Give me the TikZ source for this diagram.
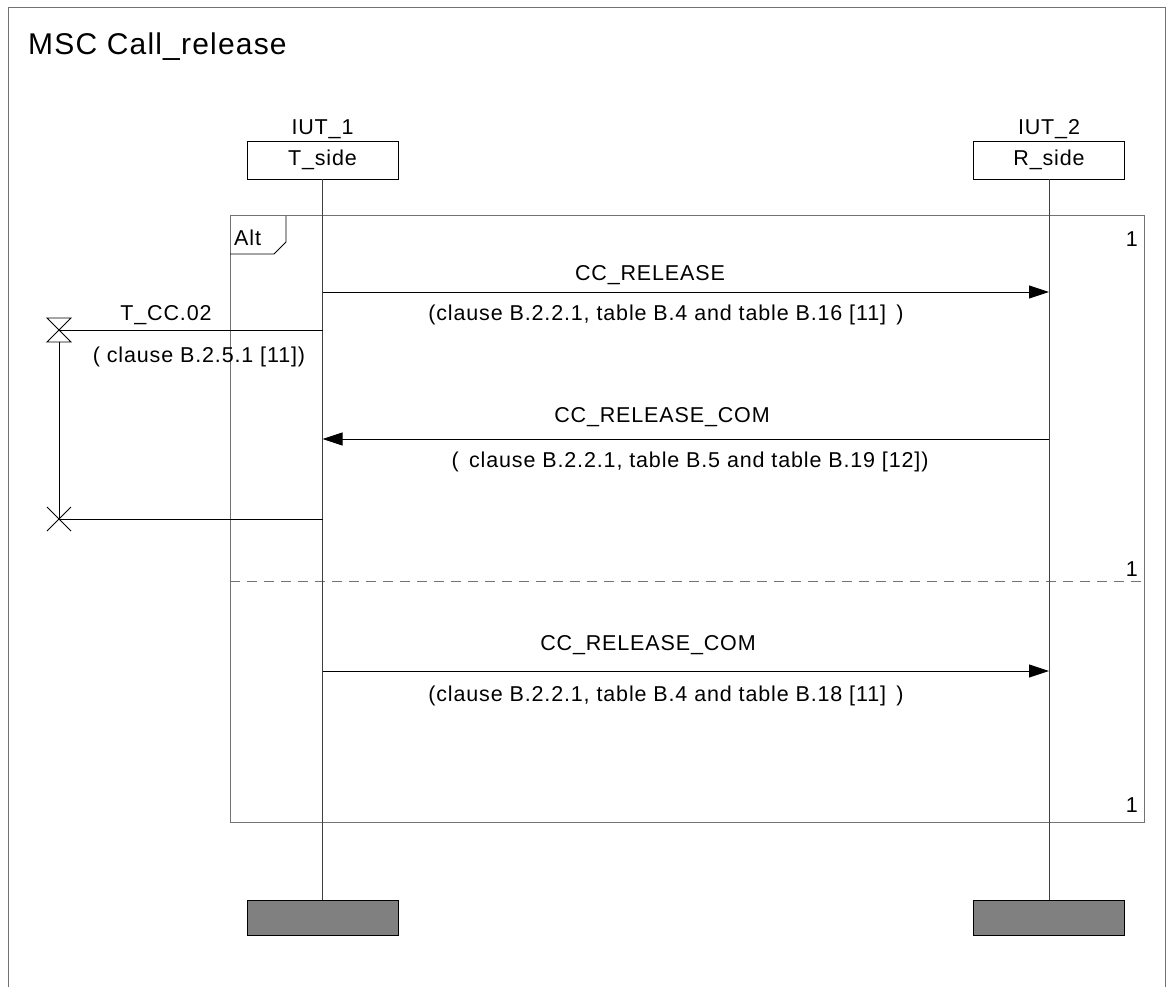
\documentclass[tikz,border=0pt]{standalone}
\usepackage{fontspec}
\setmainfont[LetterSpace=4]{Liberation Sans}
\usetikzlibrary{arrows.meta,positioning}

\begin{document}
\begin{tikzpicture}[
    x=1pt, y=-1pt,
    frame/.style={draw=black!55, line width=1pt},
    inst/.style={draw, line width=0.9pt, minimum width=151, minimum height=38, inner sep=0pt, font=\fontsize{21.5}{24}\selectfont},
    endbox/.style={draw, line width=0.9pt, fill=black!50, minimum width=151, minimum height=35, inner sep=0pt},
    life/.style={draw=black!75, line width=0.9pt},
    msg/.style={-{Triangle[length=20pt,width=13pt]}, line width=0.9pt},
    lbl/.style={font=\fontsize{21.5}{24}\selectfont, anchor=base, inner sep=0pt},
    tmr/.style={line width=0.9pt}
]
\useasboundingbox (0,0) rectangle (1173,987);

% Diagram frame and title
\draw[frame] (8,987) -- (8,8) -- (1165,8) -- (1165,987);
\node[lbl, anchor=base west, font=\fontsize{30}{34}\selectfont] (title) at (28,55) {MSC Call\_release};

% Instances
\node[inst] (tside) at (322.5,160) {T\_side};
\node[inst] (rside) at (1049,160) {R\_side};
\node[lbl, anchor=base] (iut1) at (322.5,135) {IUT\_1};
\node[lbl, anchor=base] (iut2) at (1049,135) {IUT\_2};
\node[endbox] (tend) at (322.5,917.5) {};
\node[endbox] (rend) at (1049,917.5) {};

% Alt inline expression
\draw[frame] (230,216) rectangle (1144,822);
\draw[line width=0.9pt] (230,254) -- (274,254) -- (286,242) -- (286,216);
\node[lbl, anchor=base west] (alt) at (234,246) {Alt};
\draw[frame, dashed, dash pattern=on 10pt off 7pt] (230,581) -- (1144,581);
\node[lbl, anchor=base east] (n1) at (1138,247) {1};
\node[lbl, anchor=base east] (n2) at (1138,576) {1};
\node[lbl, anchor=base east] (n3) at (1138,812) {1};

% Lifelines
\draw[life] (tside) -- (tend);
\draw[life] (rside) -- (rend);

% Message points
\coordinate (m1a) at (322.5,292);
\coordinate (m1b) at (1049,292);
\coordinate (m2a) at (322.5,439);
\coordinate (m2b) at (1049,439);
\coordinate (m3a) at (322.5,671);
\coordinate (m3b) at (1049,671);
\coordinate (t1a) at (322.5,330);
\coordinate (t1b) at (59,330);
\coordinate (t2a) at (322.5,519);
\coordinate (t2b) at (59,519);

% Messages
\draw[msg] (m1a) -- (m1b);
\node[lbl] (m1t) at (650,280) {CC\_RELEASE};
\node[lbl] (m1c) at (666,320) {(clause B.2.2.1, table B.4 and table B.16 [11]\ \,)};

\draw[msg] (m2b) -- (m2a);
\node[lbl] (m2t) at (662,422) {CC\_RELEASE\_COM};
\node[lbl] (m2c) at (690,467) {(\ \,clause B.2.2.1, table B.5 and table B.19 [12])};

\draw[msg] (m3a) -- (m3b);
\node[lbl] (m3t) at (648,650) {CC\_RELEASE\_COM};
\node[lbl] (m3c) at (666,701) {(clause B.2.2.1, table B.4 and table B.18 [11]\ \,)};

% Timer T_CC.02: set and timeout
\draw[tmr] (t1a) -- (t1b);
\draw[tmr] (47,318) -- (71,318) -- (47,342) -- (71,342) -- cycle;
\draw[tmr] (59,342) -- (t2b);
\draw[tmr] (t2a) -- (t2b);
\draw[tmr] (47,507) -- (71,531) (47,531) -- (71,507);
\node[lbl] (tmrt) at (166,320) {T\_CC.02};
\node[lbl] (tmrc) at (199,362) {( clause B.2.5.1 [11])};
\end{tikzpicture}
\end{document}
